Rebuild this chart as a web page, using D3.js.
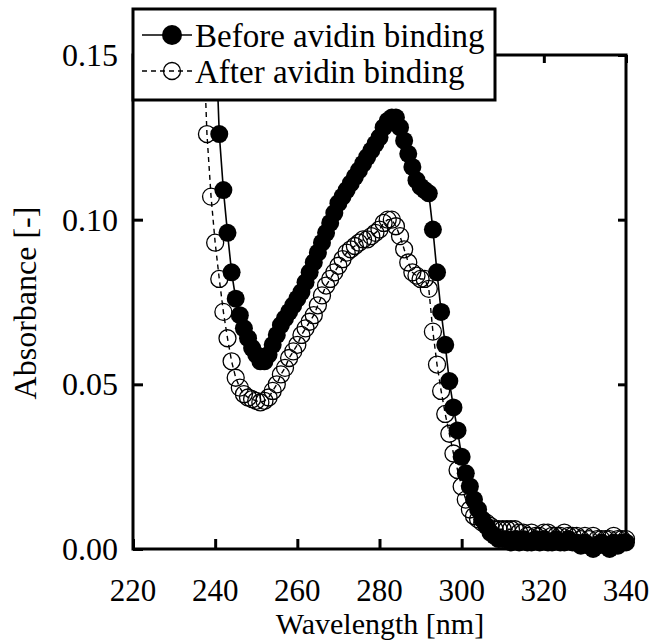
<!DOCTYPE html>
<html>
<head>
<meta charset="utf-8">
<script src="https://cdn.jsdelivr.net/npm/d3@7"></script>
<style>
  body { margin: 0; background: #fff; }
  text { font-family: "Liberation Serif", "Times New Roman", serif; fill: #000; }
</style>
</head>
<body>
<div id="chart"></div>
<script>
"use strict";
let width = 652;
let height = 644;

// wavelength grid [nm] for each series (1 nm steps)
let before_start = 240, before_end = 340;
let after_start = 237, after_end = 340;

// Absorbance before avidin binding (240..340 nm)
let before_values = [
  0.160, 0.126, 0.109, 0.096, 0.084, 0.076, 0.071, 0.067, 0.064, 0.061,
  0.059, 0.057, 0.057, 0.059, 0.062, 0.065, 0.068, 0.070, 0.072, 0.074,
  0.076, 0.078, 0.081, 0.084, 0.087, 0.090, 0.093, 0.096, 0.099, 0.102,
  0.105, 0.107, 0.109, 0.111, 0.113, 0.115, 0.117, 0.119, 0.121, 0.123,
  0.125, 0.128, 0.130, 0.131, 0.131, 0.128, 0.124, 0.120, 0.116, 0.112,
  0.110, 0.109, 0.108, 0.097, 0.084, 0.072, 0.062, 0.051, 0.043, 0.036,
  0.028, 0.023, 0.019, 0.015, 0.012, 0.009, 0.007, 0.005, 0.004, 0.003,
  0.003, 0.003, 0.002, 0.003, 0.002, 0.003, 0.002, 0.002, 0.003, 0.002,
  0.003, 0.002, 0.002, 0.003, 0.002, 0.002, 0.003, 0.002, 0.002, 0.001,
  0.002, 0.001, 0.000, 0.001, 0.002, 0.001, 0.000, 0.002, 0.001, 0.002,
  0.002
];

// Absorbance after avidin binding (237..340 nm)
let after_values = [
  0.160, 0.126, 0.107, 0.093, 0.082, 0.072, 0.064, 0.057, 0.052, 0.049,
  0.047, 0.046, 0.0455, 0.045, 0.0445, 0.045, 0.046, 0.048, 0.050, 0.053,
  0.055, 0.058, 0.060, 0.062, 0.065, 0.067, 0.069, 0.071, 0.074, 0.077,
  0.080, 0.082, 0.084, 0.086, 0.088, 0.090, 0.091, 0.092, 0.093, 0.094,
  0.094, 0.095, 0.096, 0.097, 0.099, 0.100, 0.100, 0.098, 0.095, 0.091,
  0.087, 0.084, 0.083, 0.082, 0.082, 0.079, 0.066, 0.056, 0.048, 0.041,
  0.035, 0.029, 0.024, 0.019, 0.015, 0.012, 0.010, 0.009, 0.008, 0.008,
  0.007, 0.006, 0.006, 0.006, 0.006, 0.006, 0.006, 0.005, 0.005, 0.004,
  0.005, 0.004, 0.004, 0.005, 0.005, 0.004, 0.004, 0.004, 0.005, 0.004,
  0.004, 0.004, 0.003, 0.004, 0.003, 0.004, 0.003, 0.003, 0.003, 0.003,
  0.004, 0.003, 0.003, 0.003
];

let x_ticks = [220, 240, 260, 280, 300, 320, 340];
let y_ticks = [0.00, 0.05, 0.10, 0.15];
let legend_labels = ["Before avidin binding", "After avidin binding"];

let before_data = d3.range(before_start, before_end + 1).map(function(w, i) { return [w, before_values[i]]; });
let after_data = d3.range(after_start, after_end + 1).map(function(w, i) { return [w, after_values[i]]; });

// plot box
let plot_left = 133, plot_right = 626, plot_top = 55, plot_bottom = 549;

let xScale = d3.scaleLinear().domain([220, 340]).range([plot_left, plot_right]);
let yScale = d3.scaleLinear().domain([0, 0.15]).range([plot_bottom, plot_top]);

let svg = d3.select("#chart")
            .append("svg")
            .attr("width", width)
            .attr("height", height)
            .attr("font-family", "Liberation Serif, serif");

svg.append("clipPath")
   .attr("id", "plotclip")
   .append("rect")
   .attr("x", 0)
   .attr("y", plot_top)
   .attr("width", width)
   .attr("height", height - plot_top);

let line = d3.line()
             .x(function(d) { return xScale(d[0]); })
             .y(function(d) { return yScale(d[1]); });

let plot = svg.append("g").attr("clip-path", "url(#plotclip)");

// After binding: dashed line + open circles
plot.append("path")
    .datum(after_data)
    .attr("d", line)
    .attr("fill", "none")
    .attr("stroke", "#000")
    .attr("stroke-width", 1.4)
    .attr("stroke-dasharray", "5,4");

plot.selectAll(".after")
    .data(after_data)
    .enter()
    .append("circle")
    .attr("class", "after")
    .attr("cx", function(d) { return xScale(d[0]); })
    .attr("cy", function(d) { return yScale(d[1]); })
    .attr("r", 8.5)
    .attr("fill", "none")
    .attr("stroke", "#000")
    .attr("stroke-width", 1.3);

// Before binding: solid line + filled circles
plot.append("path")
    .datum(before_data)
    .attr("d", line)
    .attr("fill", "none")
    .attr("stroke", "#000")
    .attr("stroke-width", 1.6);

plot.selectAll(".before")
    .data(before_data)
    .enter()
    .append("circle")
    .attr("class", "before")
    .attr("cx", function(d) { return xScale(d[0]); })
    .attr("cy", function(d) { return yScale(d[1]); })
    .attr("r", 9)
    .attr("fill", "#000");

// Axes with inward ticks
let xAxisBottom = d3.axisBottom(xScale).tickValues(x_ticks).tickSize(-10).tickFormat("");
let xAxisTop = d3.axisTop(xScale).tickValues(x_ticks).tickSize(-8).tickFormat("");
let yAxisLeft = d3.axisLeft(yScale).tickValues(y_ticks).tickSize(-10).tickFormat("");
let yAxisRight = d3.axisRight(yScale).tickValues(y_ticks).tickSize(-8).tickFormat("");

svg.append("g").attr("class", "axis").attr("transform", "translate(0," + plot_bottom + ")").call(xAxisBottom);
svg.append("g").attr("class", "axis").attr("transform", "translate(0," + plot_top + ")").call(xAxisTop);
svg.append("g").attr("class", "axis").attr("transform", "translate(" + plot_left + ",0)").call(yAxisLeft);
svg.append("g").attr("class", "axis").attr("transform", "translate(" + plot_right + ",0)").call(yAxisRight);

svg.selectAll(".axis .domain").remove();
svg.selectAll(".axis line").attr("stroke", "#000").attr("stroke-width", 3);

// frame
svg.append("rect")
   .attr("x", plot_left)
   .attr("y", plot_top)
   .attr("width", plot_right - plot_left)
   .attr("height", plot_bottom - plot_top)
   .attr("fill", "none")
   .attr("stroke", "#000")
   .attr("stroke-width", 3);

// tick labels
svg.selectAll(".xlabel")
   .data(x_ticks)
   .enter()
   .append("text")
   .attr("x", function(d) { return xScale(d); })
   .attr("y", 601)
   .attr("text-anchor", "middle")
   .style("font-size", "31px")
   .text(function(d) { return d; });

svg.selectAll(".ylabel")
   .data(y_ticks)
   .enter()
   .append("text")
   .attr("x", 118)
   .attr("y", function(d) { return yScale(d) + 11; })
   .attr("text-anchor", "end")
   .style("font-size", "32px")
   .text(function(d) { return d3.format(".2f")(d); });

// axis titles
svg.append("text")
   .attr("x", 380)
   .attr("y", 634)
   .attr("text-anchor", "middle")
   .style("font-size", "30px")
   .text("Wavelength [nm]");

svg.append("text")
   .attr("transform", "translate(36,303) rotate(-90)")
   .attr("text-anchor", "middle")
   .style("font-size", "32px")
   .text("Absorbance [-]");

// legend
let legend = svg.append("g");
legend.append("rect")
      .attr("x", plot_left)
      .attr("y", 9)
      .attr("width", 495 - plot_left)
      .attr("height", 91)
      .attr("fill", "#fff")
      .attr("stroke", "#000")
      .attr("stroke-width", 3);

let legend_rows = [35, 71];
legend.selectAll(".legline")
      .data(legend_rows)
      .enter()
      .append("line")
      .attr("x1", 142)
      .attr("x2", 192)
      .attr("y1", function(d) { return d; })
      .attr("y2", function(d) { return d; })
      .attr("stroke", "#000")
      .attr("stroke-width", 1.6)
      .attr("stroke-dasharray", function(d, i) { return i == 0 ? null : "5,4"; });

legend.append("circle")
      .attr("cx", 172)
      .attr("cy", legend_rows[0])
      .attr("r", 10)
      .attr("fill", "#000");

legend.append("circle")
      .attr("cx", 172)
      .attr("cy", legend_rows[1])
      .attr("r", 8.5)
      .attr("fill", "none")
      .attr("stroke", "#000")
      .attr("stroke-width", 1.3);

legend.selectAll(".legtext")
      .data(legend_labels)
      .enter()
      .append("text")
      .attr("x", 195)
      .attr("y", function(d, i) { return legend_rows[i] + 12; })
      .style("font-size", "33px")
      .text(function(d) { return d; });
</script>
</body>
</html>
